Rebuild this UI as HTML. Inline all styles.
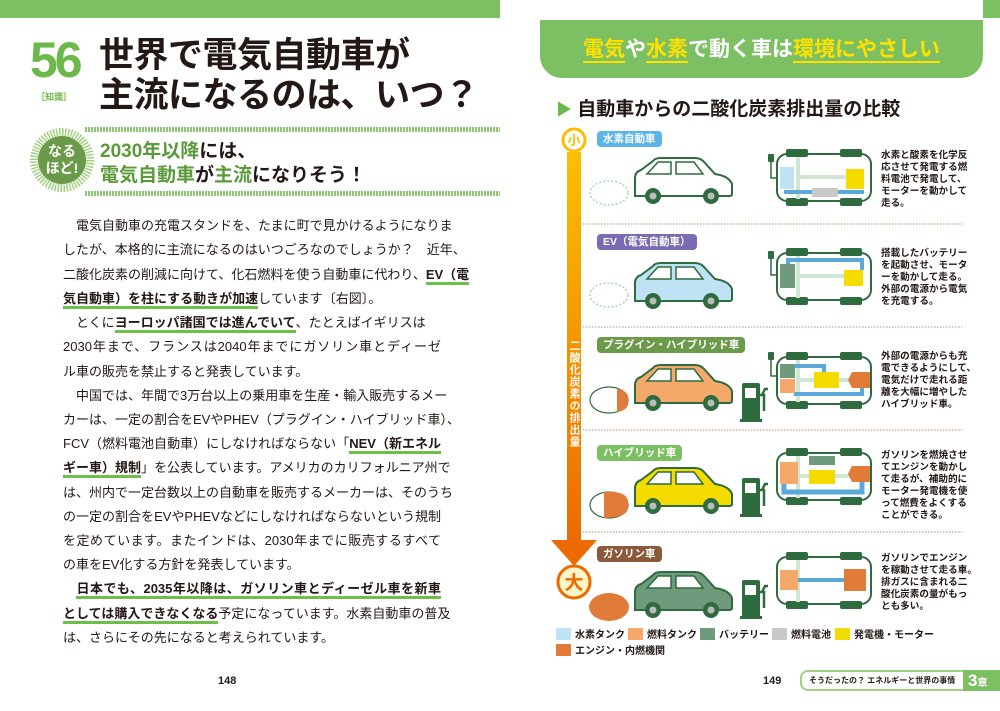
<!DOCTYPE html>
<html><head><meta charset="utf-8">
<style>
*{margin:0;padding:0;box-sizing:border-box}
body{width:1000px;height:711px;position:relative;background:#fff;overflow:hidden;font-family:"Liberation Sans","Noto Sans CJK JP",sans-serif;color:#231815}
.a{position:absolute;white-space:nowrap}
.ln{position:absolute;left:63px;width:378px;font-size:13px;height:18px;line-height:18px;text-align:justify;text-align-last:justify;white-space:nowrap}
.ln.nj{text-align-last:left}
.u{font-weight:bold;border-bottom:3px solid #6cc04a}
.desc{position:absolute;left:881px;font-size:9.6px;line-height:12px;font-weight:bold;white-space:nowrap}
.tag{position:absolute;left:597px;height:16px;border-radius:4px;color:#fff;font-size:10.5px;font-weight:bold;line-height:16px;padding:0 6px}
.lg{position:absolute;font-size:10px;font-weight:bold;line-height:13px}
.lg i{display:inline-block;width:15px;height:12px;vertical-align:-2px;margin-right:4px}
</style></head><body>
<div class="a" style="left:0;top:0;width:500px;height:18px;background:#7dc063"></div>
<div class="a" style="left:30px;top:30px;font-size:50px;font-weight:bold;color:#6cb84a;letter-spacing:-3px;line-height:60px">56</div>
<div class="a" style="left:36px;top:90px;font-size:9px;font-weight:bold;color:#6cb84a">［知識］</div>
<div class="a" style="left:99px;top:36px;font-size:35px;font-weight:bold;line-height:40px;letter-spacing:-0.5px">世界で電気自動車が</div>
<div class="a" style="left:99px;top:76px;font-size:35px;font-weight:bold;line-height:40px;letter-spacing:-0.5px">主流になるのは、いつ？</div>
<div class="a" style="left:85px;top:127px;width:415px;height:5px;background:repeating-linear-gradient(90deg,#8cc870 0 2px,#fff 2px 3px)"></div>
<div class="a" style="left:85px;top:191px;width:415px;height:5px;background:repeating-linear-gradient(90deg,#8cc870 0 2px,#fff 2px 3px)"></div>
<div class="a" style="left:30px;top:128px;width:64px;height:64px;border-radius:50%;background:repeating-conic-gradient(#9fd27f 0 3deg,#fff 3deg 6deg)"></div>
<div class="a" style="left:38px;top:136px;width:48px;height:48px;border-radius:50%;background:#6a9a4a;color:#fff;font-size:14px;font-weight:bold;text-align:center;line-height:17px;padding-top:7px">なる<br>ほど!</div>
<div class="a" style="left:100px;top:140px;font-size:19px;font-weight:bold;color:#5a9a3a;line-height:24px">2030年以降<span style="color:#231815">には、</span></div>
<div class="a" style="left:100px;top:164px;font-size:19px;font-weight:bold;color:#5a9a3a;line-height:24px">電気自動車<span style="color:#231815">が</span>主流<span style="color:#231815">になりそう！</span></div>
<div class="ln" style="top:217px">　電気自動車の充電スタンドを、たまに町で見かけるようになりま</div>
<div class="ln" style="top:241px">したが、本格的に主流になるのはいつごろなのでしょうか？　近年、</div>
<div class="ln" style="top:266px">二酸化炭素の削減に向けて、化石燃料を使う自動車に代わり、<span class="u">EV（電</span></div>
<div class="ln nj" style="top:290px"><span class="u">気自動車）を柱にする動きが加速</span>しています〔右図〕。</div>
<div class="ln nj" style="top:314px">　とくに<span class="u">ヨーロッパ諸国では進んでいて</span>、たとえばイギリスは</div>
<div class="ln" style="top:338px">2030年まで、フランスは2040年までにガソリン車とディーゼ</div>
<div class="ln nj" style="top:363px">ル車の販売を禁止すると発表しています。</div>
<div class="ln" style="top:387px">　中国では、年間で3万台以上の乗用車を生産・輸入販売するメー</div>
<div class="ln" style="top:411px">カーは、一定の割合をEVやPHEV（プラグイン・ハイブリッド車）、</div>
<div class="ln" style="top:435px">FCV（燃料電池自動車）にしなければならない「<span class="u">NEV（新エネル</span></div>
<div class="ln" style="top:459px"><span class="u">ギー車）規制</span>」を公表しています。アメリカのカリフォルニア州で</div>
<div class="ln" style="top:484px">は、州内で一定台数以上の自動車を販売するメーカーは、そのうち</div>
<div class="ln" style="top:508px">の一定の割合をEVやPHEVなどにしなければならないという規制</div>
<div class="ln" style="top:532px">を定めています。またインドは、2030年までに販売するすべて</div>
<div class="ln nj" style="top:556px">の車をEV化する方針を発表しています。</div>
<div class="ln" style="top:580px">　<span class="u">日本でも、2035年以降は、ガソリン車とディーゼル車を新車</span></div>
<div class="ln" style="top:605px"><span class="u">としては購入できなくなる</span>予定になっています。水素自動車の普及</div>
<div class="ln nj" style="top:629px">は、さらにその先になると考えられています。</div>
<div class="a" style="left:218px;top:675px;font-size:11px;font-weight:bold">148</div>

<div class="a" style="left:983px;top:0;width:17px;height:18px;background:#7dc063"></div>
<div class="a" style="left:540px;top:20px;width:443px;height:58px;background:#7dc063;border-radius:0 0 22px 22px"></div>
<div class="a" style="left:540px;top:36px;width:443px;text-align:center;font-size:21px;font-weight:bold;color:#fff;line-height:28px"><span style="color:#ffe100;border-bottom:2px solid #ffe100">電気</span>や<span style="color:#ffe100;border-bottom:2px solid #ffe100">水素</span>で動く車は<span style="color:#ffe100;border-bottom:2px solid #ffe100">環境にやさしい</span></div>
<div class="a" style="left:556px;top:98px;font-size:19px;font-weight:bold;line-height:24px"><span style="color:#6cb84a;font-size:16px">▶</span> 自動車からの二酸化炭素排出量の比較</div>

<div class="tag" style="top:131px;background:#5bb5e8">水素自動車</div>
<div class="tag" style="top:234px;background:#7a6bb3">EV（電気自動車）</div>
<div class="tag" style="top:337px;background:#6a9a4a">プラグイン・ハイブリッド車</div>
<div class="tag" style="top:445px;background:#7dc063">ハイブリッド車</div>
<div class="tag" style="top:546px;background:#8b5a3c">ガソリン車</div>

<svg class="a" style="left:0;top:0" width="1000" height="711">
<defs>
<linearGradient id="ag" x1="0" y1="0" x2="0" y2="1"><stop offset="0" stop-color="#fbbf00"/><stop offset="1" stop-color="#ec6a00"/></linearGradient>
<g id="chs">
<rect x="3" y="5" width="94" height="47" rx="10" fill="#fff" stroke="#2e6b3f" stroke-width="2"/>
<rect x="12" y="0" width="22" height="8" rx="2" fill="#2e6b3f"/><rect x="66" y="0" width="22" height="8" rx="2" fill="#2e6b3f"/>
<rect x="12" y="49" width="22" height="8" rx="2" fill="#2e6b3f"/><rect x="66" y="49" width="22" height="8" rx="2" fill="#2e6b3f"/>
<rect x="22" y="8" width="4" height="42" fill="#cfe6d3"/><rect x="22" y="26" width="58" height="4" fill="#cfe6d3"/>
</g>
<g id="pump"><rect x="0" y="0" width="18" height="38" rx="2" fill="#2e6b3f"/><rect x="3" y="5" width="11" height="10" fill="#fff"/><path d="M18 12 h4 v16 M20 12 l3 -6 h3" stroke="#2e6b3f" stroke-width="2.5" fill="none"/><rect x="-2" y="36" width="22" height="3" fill="#2e6b3f"/></g>
<g id="plug"><rect x="0" y="0" width="6" height="8" rx="1" fill="#2e6b3f"/><path d="M3 8 v16 h6" stroke="#2e6b3f" stroke-width="1.5" fill="none"/></g>
<g id="carb">
<path d="M14 16 L25 4 H38 V16 Z M43 4 H61 L70 16 H43 Z" fill="#fff" stroke="#2e6b3f" stroke-width="1.5"/>
<circle cx="20" cy="38" r="8" fill="#2e6b3f"/><circle cx="20" cy="38" r="3.5" fill="#bbb"/>
<circle cx="78" cy="38" r="8" fill="#2e6b3f"/><circle cx="78" cy="38" r="3.5" fill="#bbb"/>
</g>
<path id="cbody" d="M2 38 V20 Q2 14 8 12 L20 3 Q22 0 28 0 H62 Q68 0 72 5 L82 16 Q96 18 99 26 V36 Q99 38 96 38 Z" stroke="#2e6b3f" stroke-width="2"/>
</defs>
<rect x="567" y="152" width="14" height="392" fill="url(#ag)"/>
<path d="M551 540 H597 L574 566 Z" fill="#ec6a00"/>
<circle cx="574" cy="140" r="11" fill="#fff" stroke="#fbbf00" stroke-width="3"/>
<text x="574" y="145" font-size="13" font-weight="bold" fill="#fbbf00" text-anchor="middle">小</text>
<circle cx="574" cy="582" r="16" fill="#fff5c8" stroke="#ec6a00" stroke-width="3"/>
<text x="574" y="589" font-size="19" font-weight="bold" fill="#ec6a00" text-anchor="middle">大</text>
<text x="574" y="340" font-size="11" font-weight="bold" fill="#fff" text-anchor="start" style="writing-mode:tb" letter-spacing="1">二酸化炭素の排出量</text>
<g stroke="#c9a48f" stroke-width="1.2" stroke-dasharray="1.5 1.5">
<line x1="580" y1="224" x2="962" y2="224"/><line x1="580" y1="327" x2="962" y2="327"/><line x1="580" y1="430" x2="962" y2="430"/><line x1="580" y1="532" x2="962" y2="532"/>
</g>
<ellipse cx="609" cy="193" rx="19" ry="12" fill="none" stroke="#a8d5b8" stroke-width="1.5" stroke-dasharray="2 2"/>
<ellipse cx="609" cy="295" rx="19" ry="12" fill="none" stroke="#a8d5b8" stroke-width="1.5" stroke-dasharray="2 2"/>
<ellipse cx="609" cy="400" rx="19" ry="13" fill="#fff" stroke="#2e6b3f" stroke-width="1.2"/>
<path d="M617 388 Q630 392 628 400 Q630 410 617 412 Z" fill="#e07b39"/>
<ellipse cx="609" cy="505" rx="19" ry="13" fill="#fff" stroke="#2e6b3f" stroke-width="1.2"/>
<path d="M604 492 Q630 490 628 505 Q630 518 604 518 Z" fill="#e07b39"/>
<ellipse cx="609" cy="607" rx="20" ry="14" fill="#e07b39"/>
<g transform="translate(633,158)"><use href="#cbody" fill="#fff"/><use href="#carb"/></g>
<g transform="translate(633,263)"><use href="#cbody" fill="#bfe3f5"/><use href="#carb"/></g>
<g transform="translate(633,365)"><use href="#cbody" fill="#f4a96a"/><use href="#carb"/></g>
<g transform="translate(633,468)"><use href="#cbody" fill="#f5dc00"/><use href="#carb"/></g>
<g transform="translate(633,572)"><use href="#cbody" fill="#6f9a7c"/><use href="#carb"/></g>
<use href="#pump" x="742" y="383"/><use href="#pump" x="742" y="478"/><use href="#pump" x="742" y="580"/>
<use href="#plug" x="768" y="154"/><use href="#plug" x="768" y="251"/><use href="#plug" x="768" y="352"/>
<g transform="translate(774,149)"><use href="#chs"/>
<rect x="6" y="18" width="14" height="22" fill="#bfe3f5"/><rect x="72" y="20" width="18" height="20" fill="#f5dc00"/>
<line x1="10" y1="43" x2="90" y2="43" stroke="#5ba9d9" stroke-width="4"/><rect x="38" y="39" width="26" height="9" fill="#c8c8c8"/></g>
<g transform="translate(774,248)"><use href="#chs"/>
<path d="M14 20 V12 H88 V22" stroke="#5ba9d9" stroke-width="4" fill="none"/>
<rect x="6" y="16" width="15" height="24" fill="#6f9a7c"/><rect x="70" y="22" width="19" height="16" fill="#f5dc00"/></g>
<g transform="translate(774,352)"><use href="#chs"/>
<path d="M20 14 H50 V22 M20 42 H88 V36" stroke="#5ba9d9" stroke-width="4" fill="none"/>
<rect x="6" y="12" width="15" height="14" fill="#6f9a7c"/><rect x="6" y="27" width="15" height="14" fill="#f4a96a"/>
<rect x="40" y="20" width="25" height="16" fill="#f5dc00"/><path d="M78 20 H96 V36 H78 L74 28 Z" fill="#e07b39"/></g>
<g transform="translate(774,448)"><use href="#chs"/>
<path d="M10 36 V44 H88 V34" stroke="#5ba9d9" stroke-width="5" fill="none"/>
<rect x="6" y="14" width="18" height="22" fill="#f4a96a"/><rect x="35" y="8" width="26" height="9" fill="#6f9a7c"/>
<rect x="35" y="22" width="26" height="14" fill="#f5dc00"/><path d="M78 18 H96 V34 H78 L74 26 Z" fill="#e07b39"/></g>
<g transform="translate(774,552)"><use href="#chs"/>
<line x1="24" y1="28" x2="72" y2="28" stroke="#5ba9d9" stroke-width="4"/>
<rect x="6" y="18" width="18" height="20" fill="#f4a96a"/><rect x="70" y="17" width="22" height="22" fill="#e07b39"/></g>
</svg>

<div class="desc" style="top:150px">水素と酸素を化学反<br>応させて発電する燃<br>料電池で発電して、<br>モーターを動かして<br>走る。</div>
<div class="desc" style="top:248px">搭載したバッテリー<br>を起動させ、モータ<br>ーを動かして走る。<br>外部の電源から電気<br>を充電する。</div>
<div class="desc" style="top:351px">外部の電源からも充<br>電できるようにして、<br>電気だけで走れる距<br>離を大幅に増やした<br>ハイブリッド車。</div>
<div class="desc" style="top:450px">ガソリンを燃焼させ<br>てエンジンを動かし<br>て走るが、補助的に<br>モーター発電機を使<br>って燃費をよくする<br>ことができる。</div>
<div class="desc" style="top:553px">ガソリンでエンジン<br>を稼動させて走る車。<br>排ガスに含まれる二<br>酸化炭素の量がもっ<br>とも多い。</div>

<div class="lg" style="left:556px;top:628px"><i style="background:#bfe3f5"></i>水素タンク</div>
<div class="lg" style="left:628px;top:628px"><i style="background:#f4a96a"></i>燃料タンク</div>
<div class="lg" style="left:700px;top:628px"><i style="background:#6f9a7c"></i>バッテリー</div>
<div class="lg" style="left:772px;top:628px"><i style="background:#c8c8c8"></i>燃料電池</div>
<div class="lg" style="left:835px;top:628px"><i style="background:#f5dc00"></i>発電機・モーター</div>
<div class="lg" style="left:556px;top:644px"><i style="background:#e07b39"></i>エンジン・内燃機関</div>

<div class="a" style="left:763px;top:675px;font-size:11px;font-weight:bold">149</div>
<div class="a" style="left:800px;top:670px;width:172px;height:21px;border:2px solid #9fd27f;border-radius:8px;font-size:8px;font-weight:bold;line-height:17px;padding-left:7px">そうだったの？ エネルギーと世界の事情</div>
<div class="a" style="left:963px;top:670px;width:37px;height:21px;background:#7dc063;color:#fff;font-weight:bold;font-size:17px;line-height:21px;padding-left:5px">3<span style="font-size:10px">章</span></div>
</body></html>
